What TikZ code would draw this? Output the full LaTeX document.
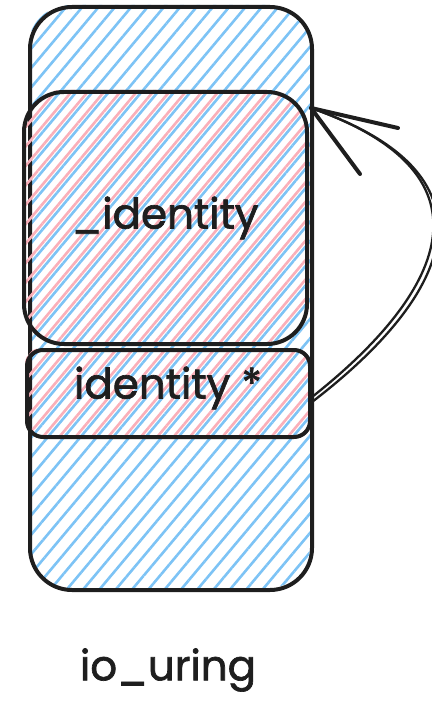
\documentclass[tikz,border=0pt]{standalone}
\usepackage{fontspec}
\setmainfont{Poppins}
\newfontfamily\hand{Poppins}[FakeBold=1.6]
\usetikzlibrary{patterns.meta}
\definecolor{hblue}{RGB}{125,195,245}
\definecolor{hpink}{RGB}{250,175,185}
\definecolor{ink}{RGB}{30,30,30}
\tikzset{
  edge/.style={draw=ink,line width=4pt,line cap=round,line join=round},
  thin edge/.style={draw=ink,line width=2.3pt,line cap=round,line join=round},
  bluehatch/.style={pattern={Lines[angle=50,distance=12.5pt,line width=2.6pt]},pattern color=hblue},
  pinkhatch/.style={pattern={Lines[angle=50,distance=12.5pt,line width=2.6pt,yshift=6pt]},pattern color=hpink},
  lbl/.style={text=ink,font=\hand\fontsize{42}{46}\selectfont,inner sep=0pt},
}
\begin{document}
\begin{tikzpicture}[x=1pt,y=-1pt]
\useasboundingbox (0,0) rectangle (431,708);
% outer box
\path[bluehatch] (28,5) [rounded corners=42pt] rectangle (310,588);
\node[edge,rounded corners=42pt,minimum width=282pt,minimum height=583pt,anchor=north west,inner sep=0pt] (outer) at (28,5) {};
% _identity box
\path[pinkhatch] (22,90) [rounded corners=40pt] rectangle (305,342);
\node[edge,rounded corners=40pt,minimum width=283pt,minimum height=252pt,anchor=north west,inner sep=0pt] (ident) at (22,90) {};
% identity * box
\path[pinkhatch] (25,348) [rounded corners=16pt] rectangle (308,435);
\node[edge,rounded corners=16pt,minimum width=283pt,minimum height=87pt,anchor=north west,inner sep=0pt] (identp) at (25,348) {};
% labels
\node[lbl] (t1) at (165,218) {\_identity};
\node[lbl] (t2) at (168,388) {identity *};
\node[lbl] (t3) at (168,670) {io\_uring};
% arrow
\coordinate (tip) at (311,108);
\coordinate (b1) at (398,128);
\coordinate (b2) at (360,174);
\draw[thin edge] (identp.east |- 0,402) .. controls (445,300) and (512,178) .. (tip);
\draw[thin edge] (identp.east |- 0,397) .. controls (440,296) and (505,176) .. (tip);
\draw[edge] (tip) -- (b1);
\draw[edge] (tip) -- (b2);
\end{tikzpicture}
\end{document}
